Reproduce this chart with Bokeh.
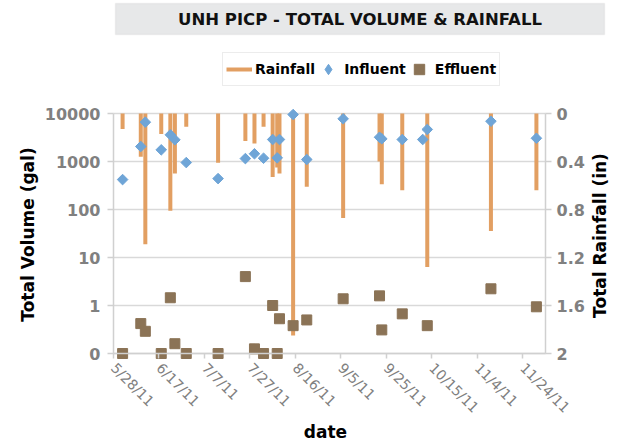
import math
import pandas as pd
from bokeh.plotting import figure
from bokeh.models import (Range1d, LinearAxis, LinearScale, FixedTicker, CustomJSTickFormatter,
                          ColumnDataSource, Legend, LegendItem, Label, BoxAnnotation)
from bokeh.embed import file_html
from bokeh.resources import INLINE

# ---------------- data ----------------
rain_dates = ["2011-06-01", "2011-06-09", "2011-06-11", "2011-06-18", "2011-06-22",
              "2011-06-24", "2011-06-29", "2011-07-13", "2011-07-25", "2011-07-29",
              "2011-08-02", "2011-08-06", "2011-08-08", "2011-08-09", "2011-08-15",
              "2011-08-21", "2011-09-06", "2011-09-22", "2011-09-23", "2011-10-02",
              "2011-10-13", "2011-11-10", "2011-11-30"]
rain_in = [0.13, 0.36, 1.09, 0.17, 0.81, 0.50, 0.11, 0.41, 0.23, 0.25,
           0.11, 0.53, 0.45, 0.50, 1.85, 0.61, 0.87, 0.40, 0.59, 0.64,
           1.28, 0.98, 0.64]

inf_dates = ["2011-06-01", "2011-06-09", "2011-06-11", "2011-06-18", "2011-06-22",
             "2011-06-24", "2011-06-29", "2011-07-13", "2011-07-25", "2011-07-29",
             "2011-08-02", "2011-08-06", "2011-08-08", "2011-08-09", "2011-08-15",
             "2011-08-21", "2011-09-06", "2011-09-22", "2011-09-23", "2011-10-02",
             "2011-10-11", "2011-10-13", "2011-11-10", "2011-11-30"]
inf_gal = [420, 2050, 6600, 1750, 3600, 2830, 950, 440, 1150, 1450,
           1170, 2870, 1190, 2870, 9500, 1100, 7750, 3200, 2970, 2870,
           2870, 4650, 6900, 3050]

eff_dates = ["2011-06-01", "2011-06-09", "2011-06-11", "2011-06-18", "2011-06-22",
             "2011-06-24", "2011-06-29", "2011-07-13", "2011-07-25", "2011-07-29",
             "2011-08-02", "2011-08-06", "2011-08-08", "2011-08-09", "2011-08-15",
             "2011-08-21", "2011-09-06", "2011-09-22", "2011-09-23", "2011-10-02",
             "2011-10-13", "2011-11-10", "2011-11-30"]
eff_gal = [0.1, 0.42, 0.29, 0.1, 1.45, 0.16, 0.1, 0.1, 4.0, 0.125,
           0.1, 1.0, 0.1, 0.53, 0.38, 0.50, 1.38, 1.59, 0.31, 0.67,
           0.38, 2.23, 0.94]

x_tick_labels = ["5/28/11", "6/17/11", "7/7/11", "7/27/11", "8/16/11",
                 "9/5/11", "9/25/11", "10/15/11", "11/4/11", "11/24/11"]
y_tick_values = [0.1, 1, 10, 100, 1000, 10000]
y_tick_labels = ["0", "1", "10", "100", "1000", "10000"]
r_tick_values = [0, 0.4, 0.8, 1.2, 1.6, 2]
r_tick_labels = ["0", "0.4", "0.8", "1.2", "1.6", "2"]

x_start = "2011-05-28"
x_end = "2011-12-04"
y_min, y_max = 0.1, 10000
r_min, r_max = 0, 2

TITLE = "UNH PICP - TOTAL VOLUME & RAINFALL"
Y_TITLE = "Total Volume (gal)"
R_TITLE = "Total Rainfall (in)"
X_TITLE = "date"

# ---------------- layout (pixels) ----------------
W, H = 626, 443
D_LEFT, D_RIGHT, D_TOP, D_BOTTOM = 113, 545, 113, 353   # data area inside the canvas

t0 = pd.Timestamp(x_start)
t1 = pd.Timestamp(x_end)
ms_per_px = (t1 - t0) / pd.Timedelta(milliseconds=1) / (D_RIGHT - D_LEFT)
x_lo = t0 - pd.Timedelta(milliseconds=ms_per_px * D_LEFT)
x_hi = t1 + pd.Timedelta(milliseconds=ms_per_px * (W - D_RIGHT))

dec_per_px = (math.log10(y_max) - math.log10(y_min)) / (D_BOTTOM - D_TOP)
y_lo = 10 ** (math.log10(y_min) - dec_per_px * (H - D_BOTTOM))
y_hi = 10 ** (math.log10(y_max) + dec_per_px * D_TOP)

in_per_px = (r_max - r_min) / (D_BOTTOM - D_TOP)
r_bottom = r_max + in_per_px * (H - D_BOTTOM)
r_topv = r_min - in_per_px * D_TOP


def sx(px):  # canvas x -> screen units of the frame
    return px


def sy(py):  # canvas y (from top) -> screen units (from bottom)
    return H - py


C_RAIN = "#E29F62"
C_INF = "#6FA5D7"
C_EFF = "#8B7356"
C_GRID = "#D9D9D9"
C_AXIS = "#D0D0D0"
C_TICK = "#808080"
FONT = "DejaVu Sans"


def fmt(values, labels, tol):
    return CustomJSTickFormatter(
        args=dict(vals=list(values), labs=list(labels), tol=tol),
        code="""
for (let i = 0; i < vals.length; i++) {
  if (Math.abs(vals[i] - tick) <= tol * Math.max(1, Math.abs(vals[i]))) return labs[i];
}
return "";
""")


def to_dt(lst):
    return pd.to_datetime(pd.Series(lst))


def ms(ts):
    return float(pd.Timestamp(ts).value // 10**6)


x_tick_dt = pd.to_datetime(x_tick_labels, format="%m/%d/%y")
x_tick_ms = [ms(t) for t in x_tick_dt]

p = figure(width=W, height=H, x_axis_type="datetime", y_axis_type="log",
           x_range=Range1d(x_lo, x_hi), y_range=Range1d(y_lo, y_hi),
           output_backend="svg", toolbar_location=None, title=None,
           min_border=0, min_border_left=0, min_border_right=0,
           min_border_top=0, min_border_bottom=0)
p.outline_line_color = None
p.background_fill_color = "white"
p.border_fill_color = "white"
p.xgrid.visible = False
p.ygrid.visible = False

p.extra_y_ranges = {"rain": Range1d(start=r_bottom, end=r_topv)}
p.extra_y_scales = {"rain": LinearScale()}

# horizontal gridlines across the data area only
grid_src = ColumnDataSource(dict(y=y_tick_values,
                                 x0=[t0] * len(y_tick_values),
                                 x1=[t1] * len(y_tick_values)))
p.segment(x0="x0", y0="y", x1="x1", y1="y", source=grid_src,
          line_color=C_GRID, line_width=1.5)

rain_src = ColumnDataSource(dict(date=to_dt(rain_dates), rain=rain_in,
                                 zero=[0] * len(rain_in)))
inf_src = ColumnDataSource(dict(date=to_dt(inf_dates), v=inf_gal))
eff_src = ColumnDataSource(dict(date=to_dt(eff_dates), v=eff_gal))

r_rain = p.segment(x0="date", y0="zero", x1="date", y1="rain", source=rain_src,
                   y_range_name="rain", line_color=C_RAIN, line_width=4,
                   line_cap="butt")
# diamond-shaped key for the legend (legend glyphs are drawn unrotated); it sits
# entirely underneath the rotated-square influent markers
r_inf_key = p.scatter(x="date", y="v", source=inf_src, marker="diamond", size=7,
                      fill_color=C_INF, line_color=C_INF)
r_inf = p.scatter(x="date", y="v", source=inf_src, marker="square", size=7.5,
                  angle=math.pi / 4, fill_color=C_INF, line_color=C_INF)
r_eff = p.scatter(x="date", y="v", source=eff_src, marker="square", size=10,
                  fill_color=C_EFF, line_color=C_EFF)


def style_axis(ax):
    ax.axis_label = None
    ax.axis_line_color = C_AXIS
    ax.axis_line_width = 1.5
    ax.major_tick_line_color = C_AXIS
    ax.major_tick_line_width = 1.5
    ax.major_tick_in = 0
    ax.minor_tick_line_color = None
    ax.major_label_text_font = FONT
    ax.major_label_text_color = C_TICK


# left axis (pinned at the first date)
ya = p.yaxis[0]
ya.ticker = FixedTicker(ticks=y_tick_values, minor_ticks=[])
ya.formatter = fmt(y_tick_values, y_tick_labels, 1e-6)
ya.bounds = (y_min, y_max)
ya.fixed_location = ms(t0)
style_axis(ya)
ya.major_label_text_font_style = "bold"
ya.major_label_text_font_size = "16px"
ya.major_label_standoff = 7
ya.major_tick_out = 6

# right axis (rainfall, reversed)
ra = LinearAxis(y_range_name="rain",
                ticker=FixedTicker(ticks=r_tick_values, minor_ticks=[]),
                formatter=fmt(r_tick_values, r_tick_labels, 1e-6),
                bounds=(r_min, r_max), fixed_location=ms(t1))
style_axis(ra)
ra.major_label_text_font_style = "bold"
ra.major_label_text_font_size = "16px"
ra.major_label_standoff = 5
ra.major_tick_out = 6
p.add_layout(ra, "right")

# bottom axis (pinned at the lowest volume)
xa = p.xaxis[0]
xa.ticker = FixedTicker(ticks=x_tick_ms, minor_ticks=[])
xa.formatter = fmt(x_tick_ms, x_tick_labels, 1e-9)
xa.bounds = (ms(t0), ms(t1))
xa.fixed_location = y_min
style_axis(xa)
xa.major_label_orientation = -math.pi / 4
xa.major_label_text_font_size = "14px"
xa.major_label_standoff = 7
xa.major_tick_out = 5

# axis titles
for txt, x, y, ang in [(Y_TITLE, 27, 234, math.pi / 2),
                       (R_TITLE, 599, 235, math.pi / 2),
                       (X_TITLE, 325, 431, 0)]:
    p.add_layout(Label(x=sx(x), y=sy(y), x_units="screen", y_units="screen",
                       text=txt, angle=ang, text_align="center",
                       text_baseline="middle", text_font=FONT,
                       text_font_style="bold", text_font_size="17px",
                       text_color="black"))

# title box
box = BoxAnnotation(left=sx(115), right=sx(604), bottom=sy(34), top=sy(3),
                    left_units="screen", right_units="screen",
                    bottom_units="screen", top_units="screen",
                    fill_color="#E7E8E9", fill_alpha=1.0,
                    line_color="#D3D3D3", line_width=1.5)
p.add_layout(box)
p.add_layout(Label(x=sx(359.5), y=sy(19), x_units="screen", y_units="screen",
                   text=TITLE, text_align="center", text_baseline="middle",
                   text_font=FONT, text_font_style="bold",
                   text_font_size="16.5px", text_color="#111111"))

legend = Legend(items=[LegendItem(label="Rainfall", renderers=[r_rain]),
                       LegendItem(label="Influent", renderers=[r_inf_key]),
                       LegendItem(label="Effluent", renderers=[r_eff])],
                location=(sx(222), sy(86)), orientation="horizontal",
                padding=3, margin=0, spacing=0, label_standoff=3,
                glyph_width=26, glyph_height=26,
                label_text_font=FONT, label_text_font_style="bold",
                label_text_font_size="14px", label_text_color="black",
                border_line_color="#D9D9D9", border_line_width=1.5,
                background_fill_color="white", background_fill_alpha=1.0)
p.add_layout(legend)

open("out.html", "w").write(file_html(p, INLINE))
